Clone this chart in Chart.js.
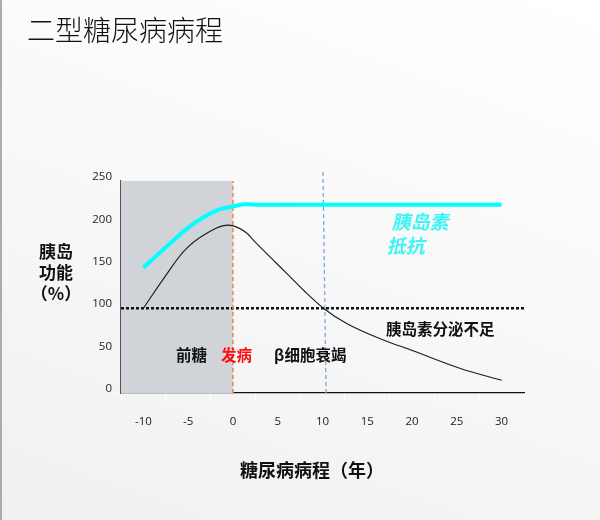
<!DOCTYPE html>
<html>
<head>
<meta charset="utf-8">
<script src="https://cdn.jsdelivr.net/npm/chart.js@4"></script>
<style>
  html, body { margin:0; padding:0; }
  body { width:600px; height:520px; overflow:hidden; position:relative;
    background: linear-gradient(200deg, #ffffff 0%, #f8f8f8 50%, #f0f0f0 100%);
    font-family: "Noto Sans CJK SC", "Noto Sans", sans-serif; }
  #edge { position:absolute; left:0; top:0; width:2px; height:520px; background:#a7adb6; }
  #wrap { position:absolute; left:0; top:0; width:600px; height:520px; }
  .t { position:absolute; white-space:nowrap; line-height:1; }
  #title { left:27px; top:15px; font-size:28px; font-weight:300; color:#111; }
  #ytitle { left:30px; top:240px; width:52px; text-align:center; font-size:17px; font-weight:bold; line-height:21px; color:#111; }
  #xtitle { left:240px; top:460px; font-size:18px; font-weight:bold; color:#111; }
  #ir { left:391px; top:209px; font-size:19px; font-weight:bold; color:#3ff4f4; line-height:24px; transform: skewX(-12deg); transform-origin: 0 50%; }
  #def { left:386px; top:321px; font-size:15.5px; font-weight:bold; color:#111; }
  #beta { left:274px; top:347px; font-size:15.5px; font-weight:bold; color:#111; }
  #pre { left:176px; top:347px; font-size:15.5px; font-weight:bold; color:#111; }
  #onset { left:221px; top:347px; font-size:15.5px; font-weight:bold; color:#ff1010; }
</style>
</head>
<body>
<div id="edge"></div>
<div id="wrap"><canvas id="c" width="600" height="520"></canvas></div>
<div class="t" id="title">二型糖尿病病程</div>
<div class="t" id="ytitle">胰岛<br>功能<br>（%）</div>
<div class="t" id="xtitle">糖尿病病程（年）</div>
<div class="t" id="ir">胰岛素<br>抵抗</div>
<div class="t" id="def">胰岛素分泌不足</div>
<div class="t" id="beta">β细胞衰竭</div>
<div class="t" id="pre">前糖</div>
<div class="t" id="onset">发病</div>
<script>
// ---- data ----
const xTicks = [-10, -5, 0, 5, 10, 15, 20, 25, 30];
const yTicks = [0, 50, 100, 150, 200, 250];
const resistanceX = [-10, -7, -5, -3, -1.5, 0, 1.5, 3, 30];
const resistanceY = [148, 176.5, 195, 209, 216.5, 220, 222.5, 222, 222];
const functionX = [-10, -7.8, -5.5, -3.3, -0.5, 1.5, 2.3, 4, 6, 8, 10.1, 12.7, 16.8, 19.8, 25.4, 30];
const functionY = [100, 134, 167, 186, 198, 189, 180, 162, 141, 120, 100, 82, 62.5, 51, 29, 15];
const normalLevel = 100;
const preDiabetesRange = [-12.5, 0];
const onsetYear = 0;
const failureYearTop = 10.05, failureYearBottom = 10.4;
const xRange = [-12.5, 32.5];
const yMax = 250;

const toPts = (xs, ys) => xs.map((x, i) => ({x: x, y: ys[i]}));

new Chart(document.getElementById('c'), {
  type: 'line',
  data: {
    datasets: [
      { // pre-diabetes shading
        data: [{x: preDiabetesRange[0], y: yMax}, {x: preDiabetesRange[1], y: yMax}],
        fill: 'origin', backgroundColor: '#d0d3d7', borderWidth: 0, pointRadius: 0, order: 10
      },
      { // normal 100% line
        data: [{x: xRange[0], y: normalLevel}, {x: xRange[1], y: normalLevel}],
        borderColor: '#111', borderWidth: 2.5, borderDash: [3, 2], pointRadius: 0, order: 5
      },
      { // onset line
        data: [{x: onsetYear, y: 0}, {x: onsetYear, y: yMax}],
        borderColor: '#ee8848', borderWidth: 1.5, borderDash: [4, 3], pointRadius: 0, order: 4
      },
      { // beta-cell failure line
        data: [{x: failureYearBottom, y: 0}, {x: failureYearTop, y: 264}],
        borderColor: '#7aa7dc', borderWidth: 1.3, borderDash: [4, 3], pointRadius: 0, order: 4, clip: false
      },
      { // insulin resistance
        data: toPts(resistanceX, resistanceY),
        borderColor: '#00ffff', borderWidth: 4, pointRadius: 0,
        cubicInterpolationMode: 'monotone', order: 2
      },
      { // beta-cell function
        data: toPts(functionX, functionY),
        borderColor: '#1a1a1a', borderWidth: 1.1, pointRadius: 0,
        cubicInterpolationMode: 'monotone', order: 1
      }
    ]
  },
  options: {
    responsive: false,
    animation: false,
    layout: { padding: { left: 0, top: 181, right: 76, bottom: 87 } },
    plugins: { legend: { display: false }, tooltip: { enabled: false } },
    scales: {
      x: {
        type: 'linear', min: xRange[0], max: xRange[1],
        afterBuildTicks: s => { s.ticks = xTicks.map(v => ({value: v})); },
        afterFit: s => { s.height = 40; },
        grid: { display: true, drawOnChartArea: false, offset: true, color: '#ffffff', tickLength: 8, lineWidth: 1 },
        border: { display: true, color: '#111', width: 1.3 },
        ticks: { color: '#222', font: { family: 'Open Sans', size: 11.5 }, padding: 14, maxRotation: 0, autoSkip: false }
      },
      y: {
        type: 'linear', min: 0, max: yMax,
        afterBuildTicks: s => { s.ticks = yTicks.map(v => ({value: v})); },
        afterFit: s => { s.width = 121; },
        grid: { display: true, drawOnChartArea: false, color: '#ffffff', tickLength: 5 },
        border: { display: true, color: '#555', width: 1.3 },
        ticks: { color: '#222', font: { family: 'Open Sans', size: 11.5 }, padding: 4, labelOffset: -4 }
      }
    }
  }
});
</script>
</body>
</html>
